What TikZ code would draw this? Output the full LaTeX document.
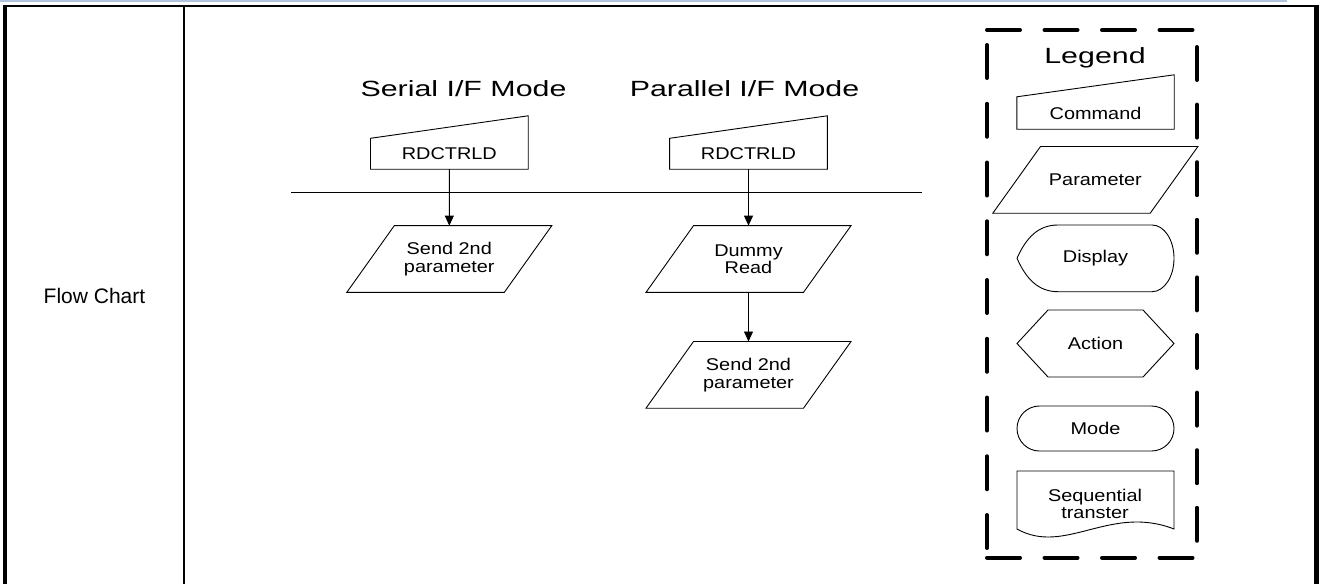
\documentclass[tikz,border=0pt]{standalone}
\usepackage{fontspec}
\setmainfont{Liberation Sans}
\newfontfamily\titlef[FakeStretch=1.38]{Liberation Sans}
\newfontfamily\bodyf[FakeStretch=1.17]{Liberation Sans}
\usetikzlibrary{arrows.meta,calc}
\tikzset{
  shp/.style={draw=black, line width=0.9pt, line join=miter},
  ttl/.style={font=\titlef\fontsize{22}{24}\selectfont, inner sep=0pt},
  lbl/.style={font=\bodyf\fontsize{17}{17.5}\selectfont, align=center, inner sep=0pt},
  cmdrect/.style={lbl, minimum width=157.3pt, minimum height=30.5pt},
  parbox/.style={lbl, minimum width=204.6pt, minimum height=66.3pt},
  flow/.style={-{Triangle[length=10pt,width=9pt]}, line width=0.9pt},
  legdash/.style={line width=4pt, line cap=round}
}
\begin{document}
\begin{tikzpicture}[x=1pt,y=-1pt]
\useasboundingbox (0,0) rectangle (1321,584);
\fill[white] (0,0) rectangle (1321,584);
% faint top line
\draw[color={rgb,255:red,176;green,196;blue,222}, line width=1.5pt] (0,0.8) -- (1287,0.8);
% table frame
\draw[line width=2pt] (3.3,6) -- (1319,6);
\draw[line width=4pt] (5.3,5) -- (5.3,584);
\draw[line width=4.5pt] (1316.7,5) -- (1316.7,584);
\draw[line width=2pt] (184,6) -- (184,584);
\node[font=\fontsize{21}{23}\selectfont, inner sep=0pt] (fc) at (94.5,296) {Flow Chart};

% titles
\node[ttl] (tser) at (463.5,88.5) {Serial I/F Mode};
\node[ttl] (tpar) at (744.5,88.5) {Parallel I/F Mode};

% command boxes (rectangular part as node)
\node[cmdrect] (scmd) at (449.35,153.75) {RDCTRLD};
\draw[shp] (scmd.north west) -- (scmd.south west) -- (scmd.south east) -- ([yshift=22.5pt]scmd.north east) -- cycle;
\node[cmdrect] (pcmd) at (748.5,153.75) {RDCTRLD};
\draw[shp] (pcmd.north west) -- (pcmd.south west) -- (pcmd.south east) -- ([yshift=22.5pt]pcmd.north east) -- cycle;

% separator line
\coordinate (hl1) at (291,192);
\coordinate (hl2) at (922,192);
\draw[line width=0.9pt] (hl1) -- (hl2);

% parameter boxes
\node[parbox] (spar) at (449.3,259) {Send 2nd\\parameter};
\draw[shp] (spar.south west) -- ([xshift=-47.5pt]spar.south east) -- (spar.north east) -- ([xshift=47.5pt]spar.north west) -- cycle;
\node[parbox] (pdum) at (748.5,259) {Dummy\\Read};
\draw[shp] (pdum.south west) -- ([xshift=-47.5pt]pdum.south east) -- (pdum.north east) -- ([xshift=47.5pt]pdum.north west) -- cycle;
\node[parbox] (ppar) at (748.5,374.85) {Send 2nd\\parameter};
\draw[shp] (ppar.south west) -- ([xshift=-47.5pt]ppar.south east) -- (ppar.north east) -- ([xshift=47.5pt]ppar.north west) -- cycle;

% connectors
\draw[flow] (scmd) -- (spar);
\draw[flow] (pcmd) -- (pdum);
\draw[flow] (pdum) -- (ppar);

% legend frame
\draw[legdash, dash pattern=on 33pt off 24.5pt] (987,30) -- (1197,30);
\draw[legdash, dash pattern=on 33pt off 24.5pt] (987,557.7) -- (1197,557.7);
\draw[legdash, dash pattern=on 33pt off 25.75pt] (987,45) -- (987,548);
\draw[legdash, dash pattern=on 33pt off 24.6pt] (1197,47) -- (1197,541);
\node[ttl] (leg) at (1095,58) {Legend};

% legend: command
\node[lbl, minimum width=157pt, minimum height=32pt] (lcmd) at (1095.5,113) {Command};
\draw[shp] (lcmd.north west) -- (lcmd.south west) -- (lcmd.south east) -- ([yshift=22pt]lcmd.north east) -- cycle;
% legend: parameter
\node[lbl, minimum width=204.7pt, minimum height=66.3pt] (lpar) at (1095.35,179.85) {Parameter};
\draw[shp] (lpar.south west) -- ([xshift=-47.7pt]lpar.south east) -- (lpar.north east) -- ([xshift=47.7pt]lpar.north west) -- cycle;
% legend: display
\node[lbl] (ldis) at (1095.5,258.3) {Display};
\draw[shp] (1017,258.3) .. controls (1026,238) and (1038,225) .. (1058,225)
  -- (1152,225) .. controls (1164.2,225) and (1174,239.9) .. (1174,258.3)
  .. controls (1174,276.7) and (1164.2,291.7) .. (1152,291.7)
  -- (1058,291.7) .. controls (1038,291.7) and (1026,278.6) .. (1017,258.3) -- cycle;
% legend: action
\node[lbl] (lact) at (1095.5,343.5) {Action};
\draw[shp] (1017,343.5) -- (1048,310) -- (1143,310) -- (1174,343.5) -- (1143,377) -- (1048,377) -- cycle;
% legend: mode
\node[lbl, minimum width=157pt, minimum height=45pt, draw, line width=0.9pt, rounded corners=22.5pt] (lmod) at (1095.5,428.5) {Mode};
% legend: sequential transfer
\node[lbl] (lseq) at (1095,504) {Sequential\\transter};
\draw[shp] (1017,529) -- (1017,471) -- (1174,471) -- (1174,529)
  .. controls (1110,504) and (1065,556) .. (1017,529) -- cycle;
\end{tikzpicture}
\end{document}
